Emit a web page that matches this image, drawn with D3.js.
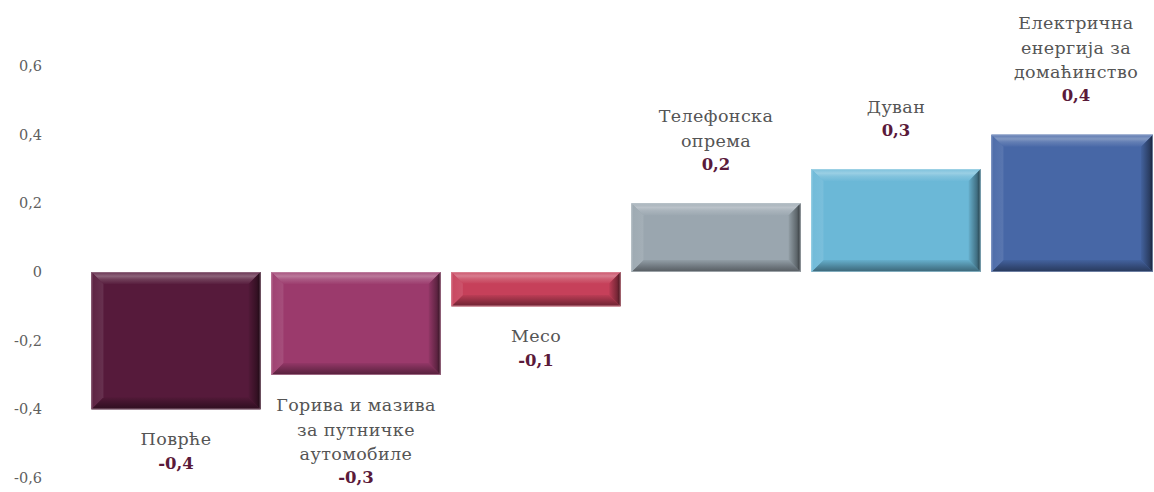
<!DOCTYPE html>
<html><head><meta charset="utf-8">
<script src="https://cdn.jsdelivr.net/npm/d3@7"></script>
<style>html,body{margin:0;padding:0;background:#fff;}svg{display:block;}</style>
</head><body>
<svg id="c" width="1154" height="492"></svg>
<script>
const categories = [
  ["Поврће"],
  ["Горива и мазива", "за путничке", "аутомобиле"],
  ["Месо"],
  ["Телефонска", "опрема"],
  ["Дуван"],
  ["Електрична", "енергија за", "домаћинство"]
];
const values = [-0.4, -0.3, -0.1, 0.2, 0.3, 0.4];
const valueLabels = ["-0,4", "-0,3", "-0,1", "0,2", "0,3", "0,4"];
const colors = ["#561a3b", "#9b3a6c", "#c6405a", "#9aa6af", "#6bb8d7", "#4767a6"];
const yTicks = [-0.6, -0.4, -0.2, 0, 0.2, 0.4, 0.6];
const yTickLabels = ["-0,6", "-0,4", "-0,2", "0", "0,2", "0,4", "0,6"];

const svg = d3.select("#c");
const plotRight = 1153;
const font = "'DejaVu Serif', 'Liberation Serif', serif";

const x = d3.scaleBand().domain(d3.range(categories.length)).range([86, 1166]).paddingInner(0.06).paddingOuter(0.03);
const y = d3.scaleLinear().domain([-0.6, 0.6]).range([478, 66]);

const yAxis = d3.axisLeft(y).tickValues(yTicks).tickSize(0).tickPadding(0)
  .tickFormat((d, i) => yTickLabels[i]);
const ga = svg.append("g").attr("transform", "translate(42,0)").call(yAxis);
ga.select(".domain").remove();
ga.selectAll("text").attr("font-family", font).attr("font-size", 14.5).attr("fill", "#606060");

const defs = svg.append("defs");
function shade(c, k) { return k > 0 ? d3.interpolateRgb(c, "#fff")(k) : d3.interpolateRgb(c, "#000")(-k); }

values.forEach((v, i) => {
  const c = colors[i];
  const x0 = x(i);
  const w = Math.min(x.bandwidth(), plotRight - x0);
  const yt = y(Math.max(0, v)), yb = y(Math.min(0, v));
  const h = yb - yt;
  const b = Math.min(12, h / 3);
  const x1 = x0 + w;
  const g = svg.append("g");
  const gt = defs.append("linearGradient").attr("id", "gt" + i).attr("x1", 0).attr("y1", 0).attr("x2", 0).attr("y2", 1);
  gt.append("stop").attr("offset", "0").attr("stop-color", shade(c, 0.12));
  gt.append("stop").attr("offset", "0.35").attr("stop-color", shade(c, 0.32));
  gt.append("stop").attr("offset", "0.6").attr("stop-color", shade(c, 0.16));
  gt.append("stop").attr("offset", "1").attr("stop-color", shade(c, 0.02));
  const gb = defs.append("linearGradient").attr("id", "gb" + i).attr("x1", 0).attr("y1", 0).attr("x2", 0).attr("y2", 1);
  gb.append("stop").attr("offset", "0").attr("stop-color", shade(c, -0.05));
  gb.append("stop").attr("offset", "0.6").attr("stop-color", shade(c, -0.3));
  gb.append("stop").attr("offset", "1").attr("stop-color", shade(c, -0.45));
  const gr = defs.append("linearGradient").attr("id", "gr" + i).attr("x1", 0).attr("y1", 0).attr("x2", 1).attr("y2", 0);
  gr.append("stop").attr("offset", "0").attr("stop-color", shade(c, -0.05));
  gr.append("stop").attr("offset", "0.7").attr("stop-color", shade(c, -0.4));
  gr.append("stop").attr("offset", "1").attr("stop-color", shade(c, -0.7));
  const gl = defs.append("linearGradient").attr("id", "gl" + i).attr("x1", 0).attr("y1", 0).attr("x2", 1).attr("y2", 0);
  gl.append("stop").attr("offset", "0").attr("stop-color", shade(c, 0.04));
  gl.append("stop").attr("offset", "1").attr("stop-color", shade(c, 0.1));

  g.append("rect").attr("x", x0).attr("y", yt).attr("width", w).attr("height", h).attr("fill", c);
  const poly = pts => pts.map(p => p.join(",")).join(" ");
  g.append("polygon").attr("points", poly([[x0, yt], [x1, yt], [x1 - b, yt + b], [x0 + b, yt + b]])).attr("fill", `url(#gt${i})`);
  g.append("polygon").attr("points", poly([[x0, yb], [x1, yb], [x1 - b, yb - b], [x0 + b, yb - b]])).attr("fill", `url(#gb${i})`);
  g.append("polygon").attr("points", poly([[x0, yt], [x0 + b, yt + b], [x0 + b, yb - b], [x0, yb]])).attr("fill", `url(#gl${i})`);
  g.append("polygon").attr("points", poly([[x1, yt], [x1 - b, yt + b], [x1 - b, yb - b], [x1, yb]])).attr("fill", `url(#gr${i})`);
  g.append("rect").attr("x", x0 + 0.5).attr("y", yt + 0.5).attr("width", w - 1).attr("height", h - 1)
    .attr("fill", "none").attr("stroke", shade(c, 0.45)).attr("stroke-width", 1).attr("stroke-opacity", 0.6);

  const cx = x0 + x.bandwidth() / 2;
  const lines = categories[i];
  const lh = 24.5;
  let firstCenter;
  if (v < 0) firstCenter = yb + 30;
  else firstCenter = yt - 38 - lines.length * lh;
  lines.forEach((t, k) => {
    svg.append("text").attr("x", cx).attr("y", firstCenter + k * lh).attr("dy", "0.35em")
      .attr("text-anchor", "middle").attr("font-family", font).attr("font-size", 17.5)
      .attr("letter-spacing", 0.4).attr("fill", "#555555").text(t);
  });
  svg.append("text").attr("x", cx).attr("y", firstCenter + lines.length * lh - 1).attr("dy", "0.35em")
    .attr("text-anchor", "middle").attr("font-family", font).attr("font-size", 16.5).attr("font-weight", "bold")
    .attr("fill", "#5a1a3a").text(valueLabels[i]);
});
</script>
</body></html>
